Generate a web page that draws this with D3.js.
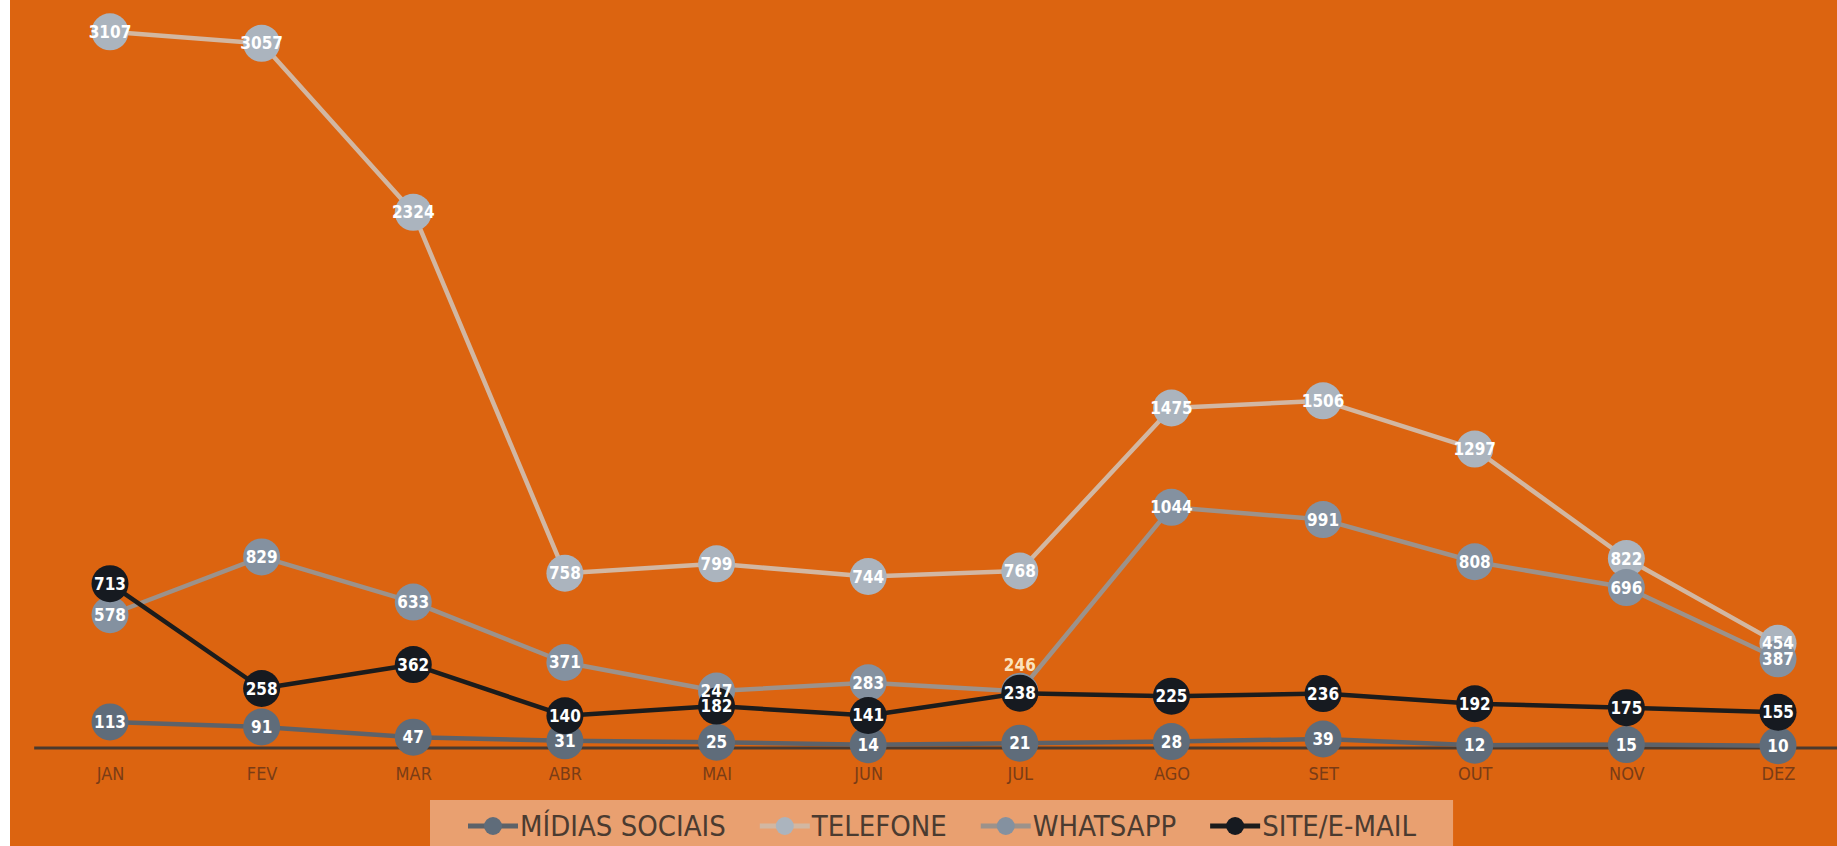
<!DOCTYPE html>
<html>
<head>
<meta charset="utf-8">
<script src="https://cdn.jsdelivr.net/npm/d3@7"></script>
<style>
  html, body { margin: 0; padding: 0; background: #fff; overflow: hidden; }
  svg { display: block; }
  text { font-family: "DejaVu Sans Condensed", "DejaVu Sans", sans-serif; font-stretch: condensed; }
</style>
</head>
<body>
<svg id="chart" width="1837" height="846"></svg>
<script>
const months = ["JAN", "FEV", "MAR", "ABR", "MAI", "JUN", "JUL", "AGO", "SET", "OUT", "NOV", "DEZ"];

const midiasSociais = [113, 91, 47, 31, 25, 14, 21, 28, 39, 12, 15, 10];
const telefone = [3107, 3057, 2324, 758, 799, 744, 768, 1475, 1506, 1297, 822, 454];
const whatsapp = [578, 829, 633, 371, 247, 283, 246, 1044, 991, 808, 696, 387];
const siteEmail = [713, 258, 362, 140, 182, 141, 238, 225, 236, 192, 175, 155];

const seriesNames = ["MÍDIAS SOCIAIS", "TELEFONE", "WHATSAPP", "SITE/E-MAIL"];

const series = [
  { name: seriesNames[0], values: midiasSociais, line: "#5d6269", dot: "#5f6c7a" },
  { name: seriesNames[1], values: telefone, line: "#d2b7a2", dot: "#abb4be" },
  { name: seriesNames[2], values: whatsapp, line: "#9c928b", dot: "#8491a0" },
  { name: seriesNames[3], values: siteEmail, line: "#1c1c1c", dot: "#161a20" }
];

const width = 1837;
const height = 846;

const svg = d3.select("#chart");

// white strip on the left, orange panel
svg.append("rect")
  .attr("x", 10).attr("y", 0)
  .attr("width", width - 10).attr("height", height)
  .attr("fill", "#dc6410");

const x = d3.scalePoint()
  .domain(months)
  .range([110, 1778]);

const y = d3.scaleLinear()
  .domain([0, 3200])
  .range([748, 748 - 3200 * 0.2305]);

// horizontal axis line
svg.append("line")
  .attr("x1", x(months[0]) - x.step() / 2)
  .attr("x2", x(months[months.length - 1]) + x.step() / 2)
  .attr("y1", y(0)).attr("y2", y(0))
  .attr("stroke", "#4a3a2f")
  .attr("stroke-width", 3);

const xAxis = svg.append("g")
  .attr("transform", `translate(0,${y(0)})`)
  .call(d3.axisBottom(x).tickSize(0).tickPadding(19));
xAxis.select(".domain").remove();
xAxis.selectAll("text")
  .attr("fill", "#7a3c16")
  .style("font-size", "18px")
  .style("font-family", "\"DejaVu Sans Condensed\", \"DejaVu Sans\", sans-serif");

const line = d3.line()
  .x((d, i) => x(months[i]))
  .y(d => y(d));

series.forEach(s => {
  svg.append("path")
    .datum(s.values)
    .attr("fill", "none")
    .attr("stroke", s.line)
    .attr("stroke-width", 4.5)
    .attr("stroke-linejoin", "round")
    .attr("d", line);

  svg.append("g")
    .selectAll("circle")
    .data(s.values)
    .join("circle")
    .attr("cx", (d, i) => x(months[i]))
    .attr("cy", d => y(d))
    .attr("r", 18.5)
    .attr("fill", s.dot);
});

// data labels
series.forEach(s => {
  svg.append("g")
    .selectAll("text")
    .data(s.values)
    .join("text")
    .attr("x", (d, i) => x(months[i]))
    .attr("y", (d, i) => y(d) + (s.name === "WHATSAPP" && months[i] === "JUL" ? -26 : 0))
    .attr("text-anchor", "middle")
    .attr("dominant-baseline", "central")
    .attr("fill", (d, i) => s.name === "WHATSAPP" && months[i] === "JUL" ? "#fbe3bd" : "#ffffff")
    .style("font-size", "17px")
    .style("font-weight", "bold")
    .text(d => d);
});

// legend
const legend = svg.append("g");
const legendBox = legend.append("rect")
  .attr("y", 800)
  .attr("height", 60)
  .attr("fill", "#e9a070");

let lx = 468;
const ly = 826;
series.forEach(s => {
  legend.append("line")
    .attr("x1", lx).attr("x2", lx + 50)
    .attr("y1", ly).attr("y2", ly)
    .attr("stroke", s.line)
    .attr("stroke-width", 5);
  legend.append("circle")
    .attr("cx", lx + 25).attr("cy", ly)
    .attr("r", 9)
    .attr("fill", s.dot);
  const t = legend.append("text")
    .attr("x", lx + 52)
    .attr("y", ly)
    .attr("dominant-baseline", "central")
    .attr("fill", "#4b3b30")
    .style("font-size", "29px")
    .text(s.name);
  lx = lx + 52 + t.node().getComputedTextLength() + 34;
});
legendBox
  .attr("x", 430)
  .attr("width", lx - 34 + 37 - 430);
</script>
</body>
</html>
